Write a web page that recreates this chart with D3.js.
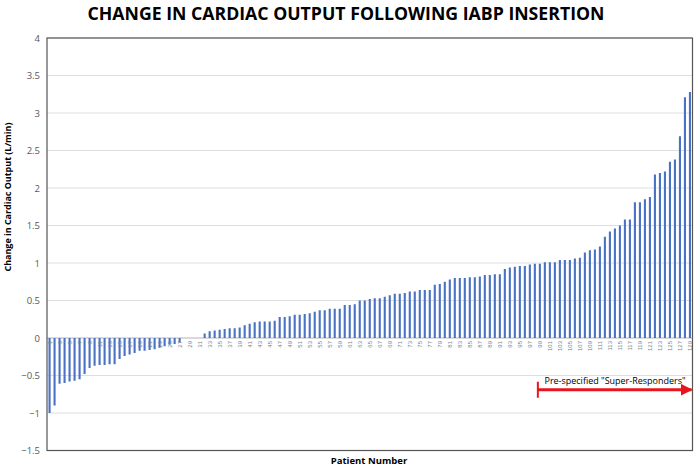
<!DOCTYPE html>
<html>
<head>
<meta charset="utf-8">
<script src="https://cdn.jsdelivr.net/npm/d3@7"></script>
<style>
  body { margin: 0; background: #fff; }
  svg { display: block; }
</style>
</head>
<body>
<div id="chart"></div>
<script>
// change in cardiac output per patient (L/min), sorted
const coChange = [
  -1.0, -0.9, -0.61, -0.6, -0.58, -0.57, -0.55, -0.48, -0.4, -0.37,
  -0.36, -0.36, -0.35, -0.35, -0.28, -0.24, -0.22, -0.2, -0.17, -0.17,
  -0.16, -0.15, -0.13, -0.11, -0.09, -0.08, -0.06,
  0, 0, 0, 0,
  0.06, 0.09, 0.10, 0.11, 0.12, 0.13, 0.13, 0.14, 0.17, 0.19,
  0.21, 0.22, 0.22, 0.22, 0.23, 0.28, 0.28, 0.29, 0.31,
  0.31, 0.32, 0.33, 0.35, 0.37, 0.37, 0.39, 0.39, 0.39, 0.44,
  0.44, 0.45, 0.50, 0.50, 0.52, 0.53, 0.53, 0.55, 0.57, 0.59,
  0.59, 0.60, 0.62, 0.62, 0.64, 0.64,
  0.64, 0.71, 0.72, 0.75, 0.78, 0.80, 0.80, 0.80, 0.81, 0.81,
  0.82, 0.84, 0.84, 0.85, 0.85, 0.92, 0.94, 0.95, 0.96, 0.96,
  0.98, 0.99, 0.99,
  1.01, 1.01, 1.01, 1.04, 1.04, 1.04, 1.06, 1.07, 1.14, 1.17,
  1.18, 1.22, 1.35, 1.42, 1.46, 1.50, 1.58, 1.58, 1.81, 1.81,
  1.85, 1.88, 2.18, 2.20, 2.22, 2.35, 2.38, 2.69, 3.21, 3.28
];
const patients = coChange.map((d, i) => i + 1);
const yTicks = [-1.5, -1, -0.5, 0, 0.5, 1, 1.5, 2, 2.5, 3, 3.5, 4];
const superStart = 99; // first patient of the "super-responders" bracket

const width = 698, height = 469;
const plotLeft = 47, plotRight = 692.5, plotTop = 38, plotBottom = 450.5;

const svg = d3.select('#chart').append('svg')
  .attr('width', width)
  .attr('height', height);

const x = d3.scaleBand()
  .domain(patients)
  .range([plotLeft, plotRight])
  .paddingInner(0.58)
  .paddingOuter(0.3);

const y = d3.scaleLinear()
  .domain([-1.5, 4])
  .range([plotBottom, plotTop]);

// gridlines
svg.append('g')
  .selectAll('line')
  .data(yTicks)
  .enter()
  .append('line')
  .attr('x1', plotLeft)
  .attr('x2', plotRight)
  .attr('y1', d => y(d))
  .attr('y2', d => y(d))
  .attr('stroke', d => d === 0 ? '#b5b5b5' : '#dedede')
  .attr('stroke-width', 1);

// bars
svg.append('g')
  .selectAll('rect')
  .data(coChange)
  .enter()
  .append('rect')
  .attr('x', (d, i) => x(patients[i]))
  .attr('y', d => y(Math.max(0, d)))
  .attr('width', x.bandwidth())
  .attr('height', d => Math.abs(y(d) - y(0)))
  .attr('fill', '#4a72c4');

// patient numbers (odd only) next to the zero line
svg.append('g')
  .selectAll('text')
  .data(patients.filter(p => p % 2 === 1))
  .enter()
  .append('text')
  .attr('transform', d => `translate(${x(d) + x.bandwidth() / 2 + 2},${y(0) + 3}) rotate(-90)`)
  .attr('text-anchor', 'end')
  .attr('font-family', 'Liberation Sans, Arial, sans-serif')
  .attr('font-size', 6)
  .attr('fill', '#7f7f7f')
  .text(d => d);

// plot border
svg.append('rect')
  .attr('x', plotLeft)
  .attr('y', plotTop)
  .attr('width', plotRight - plotLeft)
  .attr('height', plotBottom - plotTop)
  .attr('fill', 'none')
  .attr('stroke', '#555')
  .attr('stroke-width', 1.2);

// y axis tick labels
const yAxis = svg.append('g')
  .attr('transform', `translate(${plotLeft},0)`)
  .call(d3.axisLeft(y).tickValues(yTicks).tickSize(0).tickPadding(7).tickFormat(d3.format('')));
yAxis.select('.domain').remove();
yAxis.selectAll('text')
  .attr('font-family', 'Open Sans, Liberation Sans, sans-serif')
  .attr('font-size', 9.5)
  .attr('fill', '#595959');

// title
svg.append('text')
  .attr('x', 346)
  .attr('y', 20)
  .attr('text-anchor', 'middle')
  .attr('font-family', 'Open Sans, sans-serif')
  .attr('font-weight', 'bold')
  .attr('font-size', 17)
  .attr('textLength', 517)
  .attr('lengthAdjust', 'spacingAndGlyphs')
  .attr('fill', '#000')
  .text('CHANGE IN CARDIAC OUTPUT FOLLOWING IABP INSERTION');

// axis titles
svg.append('text')
  .attr('transform', 'translate(11,197) rotate(-90)')
  .attr('text-anchor', 'middle')
  .attr('font-family', 'Open Sans, sans-serif')
  .attr('font-weight', 'bold')
  .attr('font-size', 9.5)
  .attr('textLength', 149)
  .attr('lengthAdjust', 'spacingAndGlyphs')
  .attr('fill', '#000')
  .text('Change in Cardiac Output  (L/min)');

svg.append('text')
  .attr('x', 369)
  .attr('y', 464)
  .attr('text-anchor', 'middle')
  .attr('font-family', 'Open Sans, sans-serif')
  .attr('font-weight', 'bold')
  .attr('font-size', 9.5)
  .attr('fill', '#000')
  .text('Patient Number');

// super-responders bracket
const bx1 = x(superStart) + x.bandwidth() / 2 - 2;
const bx2 = plotRight - 1;
const by = y(-0.69);
svg.append('defs').append('marker')
  .attr('id', 'arrow')
  .attr('viewBox', '0 0 10 10')
  .attr('refX', 9)
  .attr('refY', 5)
  .attr('markerWidth', 4)
  .attr('markerHeight', 4)
  .attr('orient', 'auto')
  .append('path')
  .attr('d', 'M0,0 L10,5 L0,10 z')
  .attr('fill', '#e8161c');

svg.append('line')
  .attr('x1', bx1)
  .attr('x2', bx2)
  .attr('y1', by)
  .attr('y2', by)
  .attr('stroke', '#e8161c')
  .attr('stroke-width', 3)
  .attr('marker-end', 'url(#arrow)');

svg.append('line')
  .attr('x1', bx1)
  .attr('x2', bx1)
  .attr('y1', by - 8)
  .attr('y2', by + 8)
  .attr('stroke', '#e8161c')
  .attr('stroke-width', 2);

svg.append('text')
  .attr('x', 615)
  .attr('y', y(-0.61))
  .attr('text-anchor', 'middle')
  .attr('font-family', 'Open Sans, sans-serif')
  .attr('font-size', 9.5)
  .attr('textLength', 141)
  .attr('lengthAdjust', 'spacingAndGlyphs')
  .attr('fill', '#000')
  .text('Pre-specified "Super-Responders"');
</script>
</body>
</html>
